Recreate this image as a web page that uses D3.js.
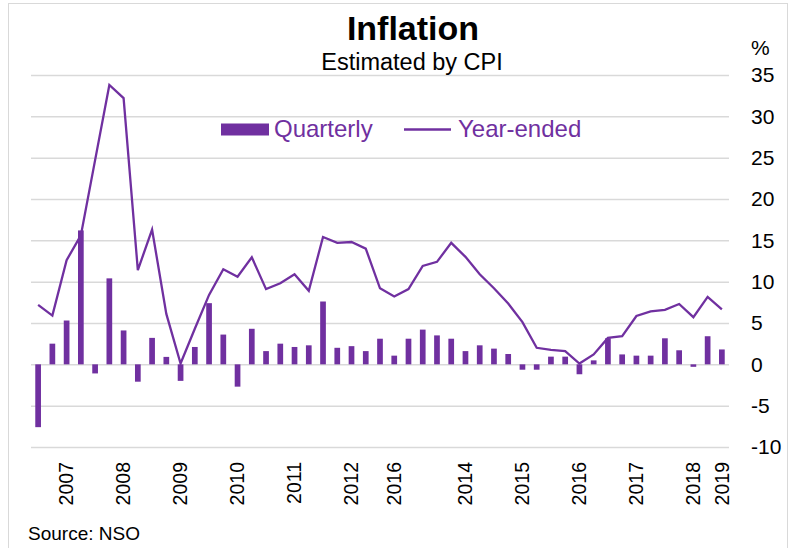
<!DOCTYPE html>
<html>
<head>
<meta charset="utf-8">
<script src="https://cdn.jsdelivr.net/npm/d3@7"></script>
<style>
  body { margin: 0; background: #fff; }
  svg { display: block; font-family: "Liberation Sans", Arial, sans-serif; }
</style>
</head>
<body>
<script>
// Quarterly CPI change, 2007Q1 - 2019Q1 (%)
const quarterly = [
  -7.6, 2.5, 5.3, 16.2, -1.1, 10.4, 4.1, -2.1, 3.2, 0.9, -2.0, 2.1,
  7.4, 3.6, -2.7, 4.3, 1.6, 2.5, 2.1, 2.3, 7.6, 2.0, 2.2, 1.6,
  3.1, 1.05, 3.1, 4.2, 3.5, 3.1, 1.6, 2.3, 1.9, 1.25, -0.65, -0.65,
  0.93, 0.93, -1.2, 0.48, 3.15, 1.2, 1.05, 1.05, 3.15, 1.7, -0.3, 3.4,
  1.8
];

// Year-ended CPI change (%)
const yearEnded = [
  7.2, 5.9, 12.6, 15.6, 24.7, 33.8, 32.2, 11.4, 16.3, 6.1, 0.1, 4.3,
  8.4, 11.5, 10.6, 12.95, 9.1, 9.8, 10.9, 8.9, 15.4, 14.7, 14.8, 14.0,
  9.2, 8.2, 9.1, 11.9, 12.4, 14.7, 13.0, 10.9, 9.2, 7.35, 5.1, 2.0,
  1.75, 1.6, 0.1, 1.2, 3.2, 3.4, 5.85, 6.4, 6.6, 7.3, 5.7, 8.15,
  6.65
];

// Category labels as they appear on the axis (most quarters unlabelled)
const axisLabels = [
  "", "", "2007", "", "", "", "2008", "", "", "", "2009", "",
  "", "", "2010", "", "", "", "2011", "", "", "", "2012", "",
  "", "2016", "", "", "", "", "2014", "", "", "", "2015", "",
  "", "", "2016", "", "", "", "2017", "", "", "", "2018", "",
  "2019"
];

const yTicks = [-10, -5, 0, 5, 10, 15, 20, 25, 30, 35];

const purple = "#7030A0";
const gridColor = "#d9d9d9";

const svg = d3.select("body")
  .append("svg")
    .attr("width", 789)
    .attr("height", 548);

// Chart border
svg.append("rect")
    .attr("x", 8.5)
    .attr("y", 3.5)
    .attr("width", 779)
    .attr("height", 560)
    .attr("fill", "none")
    .attr("stroke", gridColor);

// Scales
const xScale = d3.scaleBand()
  .domain(d3.range(quarterly.length))
  .range([31, 729])
  .paddingInner(0.6)
  .paddingOuter(0.3);

const yScale = d3.scaleLinear()
  .domain([-10, 35])
  .range([447, 75]);

// Gridlines + y labels on the right (plain hyphen for negatives)
const yAxis = svg.append("g")
    .attr("transform", "translate(729, 0)")
    .call(d3.axisRight(yScale)
      .tickValues(yTicks)
      .tickSize(-698)
      .tickPadding(22)
      .tickFormat(d => String(d)));
yAxis.select(".domain").remove();
yAxis.selectAll("line")
    .attr("stroke", gridColor)
    .attr("stroke-width", 1.5);
yAxis.selectAll("text")
    .attr("fill", "#000")
    .style("font-size", "21px");

svg.append("text")
    .text("%")
    .attr("x", 751)
    .attr("y", 55)
    .style("font-size", "21px");

// Bars
svg.append("g")
  .selectAll("rect")
  .data(quarterly)
  .join("rect")
    .attr("x", (d, i) => xScale(i))
    .attr("y", d => yScale(Math.max(0, d)))
    .attr("width", xScale.bandwidth())
    .attr("height", d => Math.abs(yScale(d) - yScale(0)))
    .attr("fill", purple);

// Year-ended line
const line = d3.line()
  .x((d, i) => xScale(i) + xScale.bandwidth() / 2)
  .y(d => yScale(d));

svg.append("path")
    .datum(yearEnded)
    .attr("d", line)
    .attr("fill", "none")
    .attr("stroke", purple)
    .attr("stroke-width", 2.3)
    .attr("stroke-linejoin", "miter");

// X axis labels
const xAxis = svg.append("g")
    .attr("transform", "translate(0, 447)")
    .call(d3.axisBottom(xScale)
      .tickSize(0)
      .tickFormat(i => axisLabels[i]));
xAxis.select(".domain").remove();
xAxis.selectAll("text")
    .attr("transform", "rotate(-90)")
    .attr("x", -15)
    .attr("y", 0)
    .attr("dy", "0.35em")
    .attr("text-anchor", "end")
    .attr("fill", "#000")
    .style("font-size", "19.5px");

// Title
svg.append("text")
    .text("Inflation")
    .attr("x", 413)
    .attr("y", 40)
    .attr("text-anchor", "middle")
    .style("font-size", "34px")
    .style("font-weight", "bold");

svg.append("text")
    .text("Estimated by CPI")
    .attr("x", 412)
    .attr("y", 70)
    .attr("text-anchor", "middle")
    .style("font-size", "23.5px");

// Legend
svg.append("rect")
    .attr("x", 221)
    .attr("y", 123.5)
    .attr("width", 48)
    .attr("height", 12)
    .attr("fill", purple);
svg.append("text")
    .text("Quarterly")
    .attr("x", 274)
    .attr("y", 137)
    .attr("fill", purple)
    .style("font-size", "24px");
svg.append("line")
    .attr("x1", 404)
    .attr("x2", 451)
    .attr("y1", 129.5)
    .attr("y2", 129.5)
    .attr("stroke", purple)
    .attr("stroke-width", 2.3);
svg.append("text")
    .text("Year-ended")
    .attr("x", 458)
    .attr("y", 137)
    .attr("fill", purple)
    .style("font-size", "24px");

// Source
svg.append("text")
    .text("Source: NSO")
    .attr("x", 28)
    .attr("y", 540)
    .style("font-size", "19px");
</script>
</body>
</html>
